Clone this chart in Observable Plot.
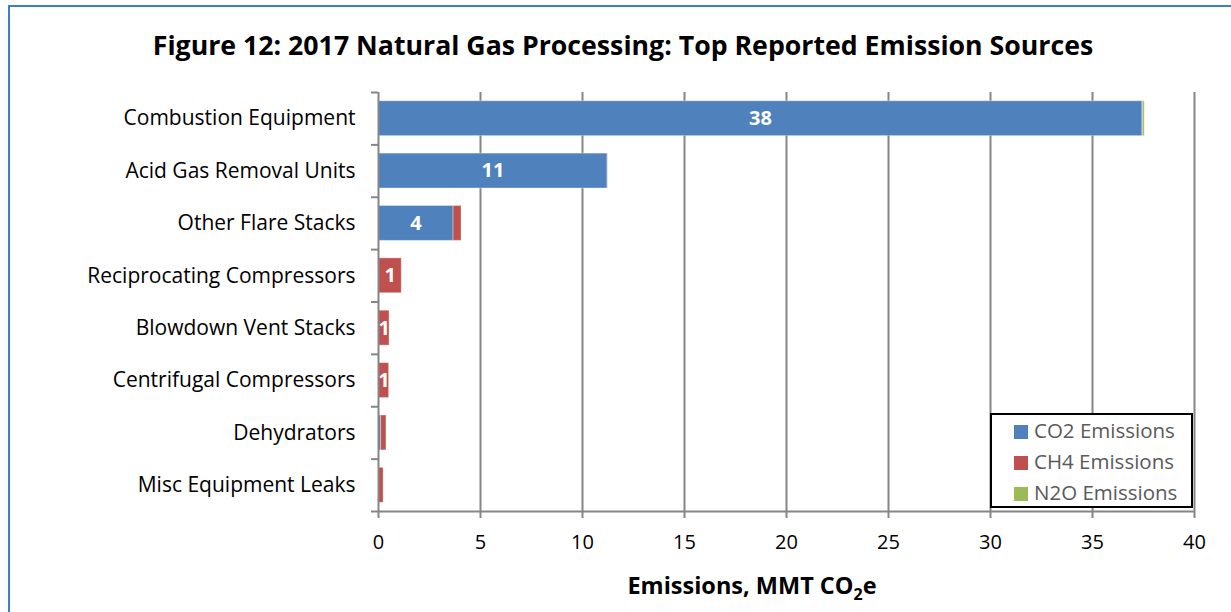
<!DOCTYPE html>
<html>
<head>
<meta charset="utf-8">
<script src="https://cdn.jsdelivr.net/npm/d3@7"></script>
<script src="https://cdn.jsdelivr.net/npm/@observablehq/plot@0.6"></script>
<style>
  html, body { margin: 0; padding: 0; background: #fff; }
  #wrap { position: relative; width: 1231px; height: 612px; overflow: hidden; font-family: "Open Sans", Lato, sans-serif; }
  #frame { position: absolute; left: 8px; top: 5px; width: 1400px; height: 800px; border-left: 2px solid #3a7fc8; border-top: 2px solid #3a7fc8; }
  #title { position: absolute; left: 0; top: 0; width: 1231px; height: 80px; }
  #title div { position: absolute; left: 0; width: 1246px; top: 26px; text-align: center; font-weight: bold; font-size: 26.7px; color: #000; white-space: nowrap; }
  #chart { position: absolute; left: 0; top: 80px; }
  #xlabel { position: absolute; left: 752px; top: 569px; transform: translateX(-50%); font-weight: bold; font-size: 23.5px; color: #000; white-space: nowrap; }
  #xlabel sub { font-size: 16px; vertical-align: -6px; line-height: 0; }
  #legend { position: absolute; left: 990px; top: 413px; width: 199px; height: 91px; border: 2px solid #000; background: #fff; }
  .item { position: absolute; left: 22px; font-size: 20.5px; color: #595959; white-space: nowrap; }
  .sw { display: inline-block; width: 14px; height: 14px; margin-right: 6px; vertical-align: -1px; }
</style>
</head>
<body>
<div id="wrap">
  <div id="frame"></div>
  <div id="title"><div>Figure 12: 2017 Natural Gas Processing: Top Reported Emission Sources</div></div>
  <div id="chart"></div>
  <div id="xlabel">Emissions, MMT CO<sub>2</sub>e</div>
  <div id="legend"></div>
</div>
<script>
const categories = ["Combustion Equipment", "Acid Gas Removal Units", "Other Flare Stacks", "Reciprocating Compressors", "Blowdown Vent Stacks", "Centrifugal Compressors", "Dehydrators", "Misc Equipment Leaks"];
const co2 = [37.45, 11.23, 3.68, 0.02, 0.01, 0.01, 0.13, 0.01];
const ch4 = [0.03, 0.01, 0.39, 1.12, 0.53, 0.51, 0.26, 0.24];
const n2o = [0.08, 0.0, 0.0, 0.0, 0.0, 0.0, 0.0, 0.0];
const seriesNames = ["CO2 Emissions", "CH4 Emissions", "N2O Emissions"];
const seriesColors = ["#4f81bd", "#c0504d", "#9bbb59"];
const barLabels = ["38", "11", "4", "1", "1", "1", "", ""];
const labelSeries = ["CO2 Emissions", "CO2 Emissions", "CO2 Emissions", "CH4 Emissions", "CH4 Emissions", "CH4 Emissions", "", ""];
const xTicks = [0, 5, 10, 15, 20, 25, 30, 35, 40];

const seriesValues = [co2, ch4, n2o];
const rows = [];
categories.forEach((cat, i) => {
  let start = 0;
  seriesNames.forEach((s, j) => {
    const v = seriesValues[j][i];
    rows.push({cat, i, series: s, value: v, x1: start, x2: start + v, label: labelSeries[i] === s ? barLabels[i] : ""});
    start += v;
  });
});
const barRows = rows.filter(d => d.value > 0);
const labelRows = rows.filter(d => d.label !== "");

const plot = Plot.plot({
  width: 1231,
  height: 532,
  marginLeft: 378,
  marginRight: 37,
  marginTop: 12,
  marginBottom: 101,
  style: {fontFamily: "'Open Sans', Lato, sans-serif", fontSize: "20px", color: "#000", background: "transparent"},
  x: {domain: [0, 40]},
  y: {domain: [0, categories.length], reverse: true},
  color: {domain: seriesNames, range: seriesColors},
  marks: [
    Plot.gridX({ticks: xTicks.slice(1), stroke: "#868686", strokeOpacity: 1, strokeWidth: 2}),
    Plot.rectX(barRows, {x1: "x1", x2: "x2", y1: d => d.i + 0.167, y2: d => d.i + 0.833, fill: "series", stroke: "#fff", strokeOpacity: 0.35, strokeWidth: 1}),
    Plot.text(labelRows, {x: d => d.x1 + d.value / 2, y: d => d.i + 0.5, text: "label", fill: "#fff", fontWeight: "bold", fontSize: 20}),
    Plot.ruleX([0], {stroke: "#868686", strokeWidth: 2}),
    Plot.ruleY([categories.length], {stroke: "#868686", strokeWidth: 2}),
    Plot.axisY({ticks: d3.range(categories.length).map(i => i + 0.5), tickFormat: v => categories[Math.floor(v)], tickSize: 0, tickPadding: 23, fontSize: 21, fill: "#000", label: null}),
    Plot.axisY({ticks: d3.range(categories.length + 1), tickFormat: () => "", tickSize: 7, stroke: "#868686", strokeWidth: 2, label: null}),
    Plot.axisX({ticks: xTicks, tickSize: 7, tickPadding: 16, fontSize: 20, stroke: "#868686", strokeWidth: 2, fill: "#000", label: null})
  ]
});
document.getElementById("chart").appendChild(plot);

const legend = document.getElementById("legend");
seriesNames.forEach((s, j) => {
  const it = document.createElement("div");
  it.className = "item";
  it.style.top = (1 + j * 31) + "px";
  it.innerHTML = `<span class="sw" style="background:${seriesColors[j]}"></span>${s}`;
  legend.appendChild(it);
});
</script>
</body>
</html>
